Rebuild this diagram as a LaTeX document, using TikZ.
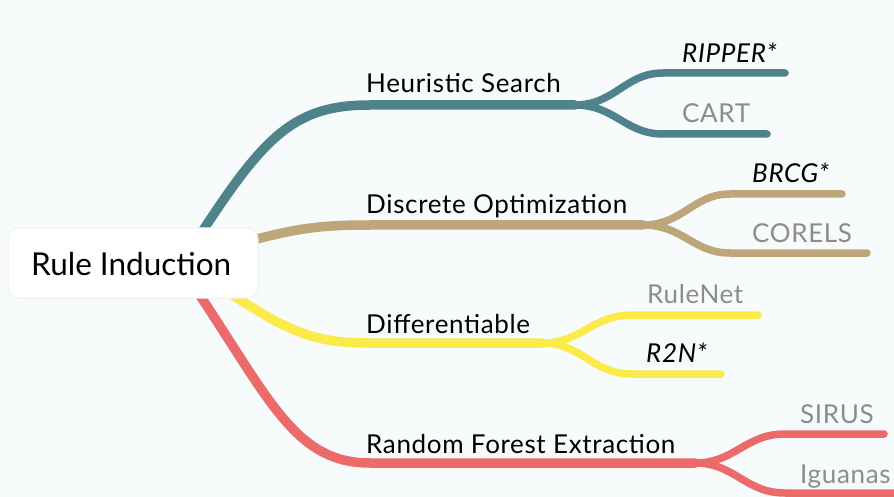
\documentclass[tikz,border=0pt]{standalone}
\usepackage{fontspec}
\setmainfont{Lato}
\newfontfamily\lblfont[LetterSpace=2.5]{Lato}
\definecolor{bgc}{RGB}{247,251,252}
\definecolor{teal}{RGB}{79,131,140}
\definecolor{tan}{RGB}{189,167,122}
\definecolor{yel}{RGB}{250,235,75}
\definecolor{redc}{RGB}{236,106,106}
\definecolor{leafgray}{RGB}{140,140,140}
\tikzset{
  mainline/.style={line width=9.5pt, line cap=round},
  subline/.style={line width=7.5pt, line cap=round},
  lbl/.style={anchor=base west, inner sep=0pt, font=\lblfont\fontsize{26}{30}\selectfont, text=black},
  leafg/.style={anchor=base west, inner sep=0pt, font=\lblfont\fontsize{26}{30}\selectfont, text=leafgray},
  leafi/.style={anchor=base west, inner sep=0pt, font=\lblfont\fontsize{26}{30}\selectfont\itshape, text=black},
  rootbox/.style={draw=black!6, line width=1pt, fill=white, rounded corners=11pt, minimum width=250pt, minimum height=70pt, inner sep=0pt}
}
\begin{document}
\begin{tikzpicture}[x=1pt,y=-1pt]
\fill[bgc] (0,0) rectangle (894,497);
\useasboundingbox (0,0) rectangle (894,497);
% anchor points
\coordinate (sT) at (200,235);
\coordinate (sD) at (235,245);
\coordinate (sY) at (225,290);
\coordinate (sR) at (195,288);
\coordinate (hT) at (370,105);
\coordinate (hD) at (370,225);
\coordinate (hY) at (370,343);
\coordinate (hR) at (370,463);
\coordinate (fT) at (575,105);
\coordinate (fD) at (643,225);
\coordinate (fY) at (542,343);
\coordinate (fR) at (695,463);
% teal
\draw[mainline, teal] (sT) .. controls (265,135) and (295,105) .. (hT) -- (fT);
\coordinate (tA) at (663,73); \coordinate (tAe) at (785,73);
\coordinate (tB) at (663,134); \coordinate (tBe) at (767,134);
\draw[subline, teal] (fT) .. controls (615,105) and (625,73) .. (tA) -- (tAe);
\draw[subline, teal] (fT) .. controls (615,105) and (625,134) .. (tB) -- (tBe);
% tan
\draw[mainline, tan] (sD) .. controls (295,228) and (320,225) .. (hD) -- (fD);
\coordinate (dA) at (730,194); \coordinate (dAe) at (842,194);
\coordinate (dB) at (730,253); \coordinate (dBe) at (867,253);
\draw[subline, tan] (fD) .. controls (683,225) and (693,194) .. (dA) -- (dAe);
\draw[subline, tan] (fD) .. controls (683,225) and (693,253) .. (dB) -- (dBe);
% yellow
\draw[mainline, yel] (sY) .. controls (290,333) and (315,343) .. (hY) -- (fY);
\coordinate (yA) at (632,315); \coordinate (yAe) at (758,315);
\coordinate (yB) at (632,374); \coordinate (yBe) at (721,374);
\draw[subline, yel] (fY) .. controls (582,343) and (592,315) .. (yA) -- (yAe);
\draw[subline, yel] (fY) .. controls (582,343) and (592,374) .. (yB) -- (yBe);
% red
\draw[mainline, redc] (sR) .. controls (270,400) and (295,463) .. (hR) -- (fR);
\coordinate (rA) at (785,434); \coordinate (rAe) at (884,434);
\coordinate (rB) at (785,493); \coordinate (rBe) at (905,493);
\draw[subline, redc] (fR) .. controls (735,463) and (745,434) .. (rA) -- (rAe);
\draw[subline, redc] (fR) .. controls (735,463) and (745,493) .. (rB) -- (rBe);
% root
\node[rootbox] (root) at (133,263) {};
\node[anchor=base west, inner sep=0pt, font=\fontsize{31.5}{36}\selectfont] (roottxt) at (31,275) {Rule Induction};
% labels
\node[lbl] (heur) at (366,93) {Heuristic Search};
\node[lbl] (disc) at (366,214) {Discrete Optimization};
\node[lbl] (diff) at (366,333) {Differentiable};
\node[lbl] (rf) at (366,453) {Random Forest Extraction};
% leaves
\node[leafi] (ripper) at (682,63) {RIPPER*};
\node[leafg] (cart) at (682,123) {CART};
\node[leafi] (brcg) at (752,183) {BRCG*};
\node[leafg] (corels) at (752,243) {CORELS};
\node[leafg] (rulenet) at (647,303) {RuleNet};
\node[leafi] (r2n) at (646,362) {R2N*};
\node[leafg] (sirus) at (800,423) {SIRUS};
\node[leafg] (iguanas) at (800,483) {Iguanas};
\end{tikzpicture}
\end{document}
